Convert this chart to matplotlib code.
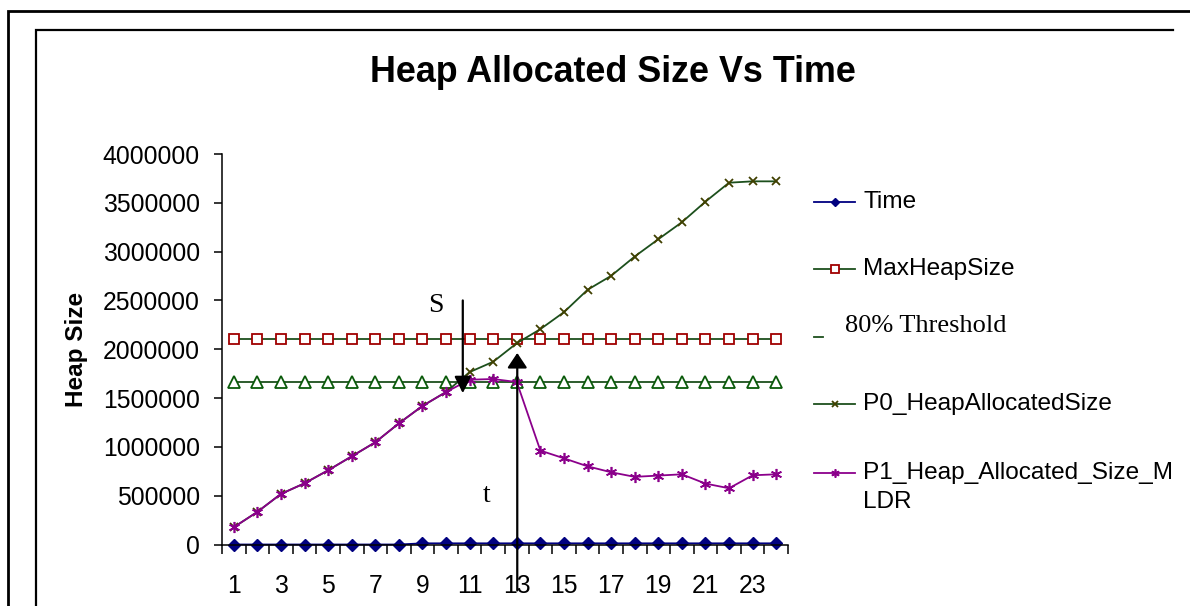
import matplotlib
matplotlib.use('Agg')
import matplotlib.pyplot as plt
from matplotlib.lines import Line2D
from matplotlib.transforms import Bbox

# ---------------- data ----------------
categories = list(range(1, 25))
time_vals = [0, 0, 0, 0, 0, 0, 0, 0, 12000, 12000, 12000, 12000, 12000, 12000,
             12000, 12000, 12000, 12000, 12000, 12000, 12000, 12000, 12000, 12000]
max_heap = [2106000] * 24
threshold = [1668000] * 24
p0_alloc = [177000, 334000, 518000, 627000, 760000, 903000, 1047000, 1241000,
            1419000, 1562000, 1766000, 1872000, 2062000, 2206000, 2380000, 2609000,
            2752000, 2950000, 3127000, 3301000, 3512000, 3706000, 3720000, 3720000]
p1_alloc = [177000, 334000, 518000, 627000, 760000, 903000, 1047000, 1241000,
            1419000, 1562000, 1688000, 1695000, 1664000, 962000, 883000, 801000,
            740000, 693000, 706000, 719000, 624000, 576000, 709000, 719000]
y_ticks = [0, 500000, 1000000, 1500000, 2000000, 2500000, 3000000, 3500000, 4000000]
x_labels = [1, 3, 5, 7, 9, 11, 13, 15, 17, 19, 21, 23]
series_labels = ["Time", "MaxHeapSize", "80% Threshold", "P0_HeapAllocatedSize",
                 "P1_Heap_Allocated_Size_M\nLDR"]
title = "Heap Allocated Size Vs Time"
ylabel = "Heap Size"

SANS = "Liberation Sans"
SERIF = "Liberation Serif"

W, H = 1190, 606
fig = plt.figure(figsize=(W / 100, H / 100), dpi=100)
fig.patch.set_facecolor('white')

def fx(x):
    return x / W

def fy(y):
    return 1 - y / H

# frames
for xs, ys, lw in [([8, 8, 1190], [606, 11, 11], 2.0), ([36, 36, 1173], [606, 30, 30], 1.6)]:
    fig.add_artist(Line2D([fx(v) for v in xs], [fy(v) for v in ys], color='black', lw=lw,
                          transform=fig.transFigure, solid_joinstyle='miter'))

ax = fig.add_axes([fx(222), fy(544.5), (788 - 222) / W, (544.5 - 154) / H])
ax.set_facecolor('none')

c_time = '#000080'
c_green = '#1c4f1c'
c_sq = '#a00000'
c_tri = '#0a5a0a'
c_x = '#404000'
c_purple = '#8b008b'

styles = [
    dict(color=c_time, marker='D', ms=6, mfc=c_time, mec=c_time, lw=1.3),
    dict(color=c_green, marker='s', ms=7, mfc='white', mec=c_sq, mew=1.3, lw=1.3),
    dict(color=c_green, marker='^', ms=8, mfc='white', mec=c_tri, mew=1.3, lw=1.3),
    dict(color=c_green, marker='x', ms=6, mec=c_x, mew=1.3, lw=1.3),
    dict(color=c_purple, marker=(6, 2, 0), ms=8, mec=c_purple, mew=1.2, lw=1.3),
]
series = [time_vals, max_heap, threshold, p0_alloc, p1_alloc]
for vals, st in zip(series, styles):
    ax.plot(categories, vals, clip_on=False, **st)

ax.set_xlim(0.5, 24.5)
ax.set_ylim(0, 4000000)
ax.spines['top'].set_visible(False)
ax.spines['right'].set_visible(False)
for s in ['left', 'bottom']:
    ax.spines[s].set_linewidth(1.1)
ax.set_yticks(y_ticks)
ax.set_yticklabels([str(v) for v in y_ticks], fontfamily=SANS, fontsize=17.8)
ax.tick_params(axis='y', direction='out', length=6, width=1.1, pad=10)
ax.set_xticks(x_labels)
ax.set_xticklabels([str(v) for v in x_labels], fontfamily=SANS, fontsize=17.8)
ax.set_xticks([c - 0.5 for c in categories] + [24.5], minor=True)
ax.tick_params(axis='x', which='major', length=0, pad=21)
ax.tick_params(axis='x', which='minor', direction='out', length=6.5, width=1.1)

ax.set_ylabel(ylabel, fontfamily=SANS, fontsize=17.5, fontweight='bold')
ax.yaxis.set_label_coords((88 - 222) / 566, 0.5)

fig.text(fx(613), fy(73), title, ha='center', va='center', fontfamily=SANS,
         fontsize=25.8, fontweight='bold')

# annotations: S and t arrows
ax.annotate("", xy=(10.71, 1550000), xytext=(10.71, 2500000),
            arrowprops=dict(arrowstyle='-|>,head_length=0.5,head_width=0.25',
                            mutation_scale=20, color='black', lw=1.6,
                            shrinkA=0, shrinkB=0), annotation_clip=False)
ax.annotate("", xy=(13.02, 1962000), xytext=(13.02, -470000),
            arrowprops=dict(arrowstyle='-|>,head_length=0.45,head_width=0.3',
                            mutation_scale=20, color='black', lw=1.6,
                            shrinkA=0, shrinkB=0), annotation_clip=False)
fig.text(fx(436), fy(305), "S", ha='center', va='center', fontfamily=SERIF, fontsize=20)
fig.text(fx(487), fy(496), "t", ha='center', va='center', fontfamily=SERIF, fontsize=20)

# legend (drawn manually to match layout)
leg_y = [201.7, 269, 337, 404.3, 473.3]
clipbox = Bbox([[0, 0], [1173, H]])
for i, (lab, st, yy) in enumerate(zip(series_labels, styles, leg_y)):
    if i == 2:
        fig.add_artist(Line2D([fx(814), fx(823)], [fy(337), fy(337)], color=c_green,
                              lw=1.3, transform=fig.transFigure))
        fig.text(fx(845), fy(326.5), lab, ha='left', va='center', fontfamily=SERIF,
                 fontsize=19)
        continue
    st2 = dict(st)
    st2['ms'] = st2['ms'] * 0.75
    fig.add_artist(Line2D([fx(814), fx(835), fx(855)], [fy(yy)] * 3,
                          markevery=[1], transform=fig.transFigure, **st2))
    for k, line in enumerate(lab.split('\n')):
        t = fig.text(fx(863), fy(yy + 28.5 * k), line, ha='left', va='center',
                     fontfamily=SANS, fontsize=17.6)
        t.set_clip_box(clipbox)
        t.set_clip_on(True)

fig.savefig('out.png', dpi=100)
